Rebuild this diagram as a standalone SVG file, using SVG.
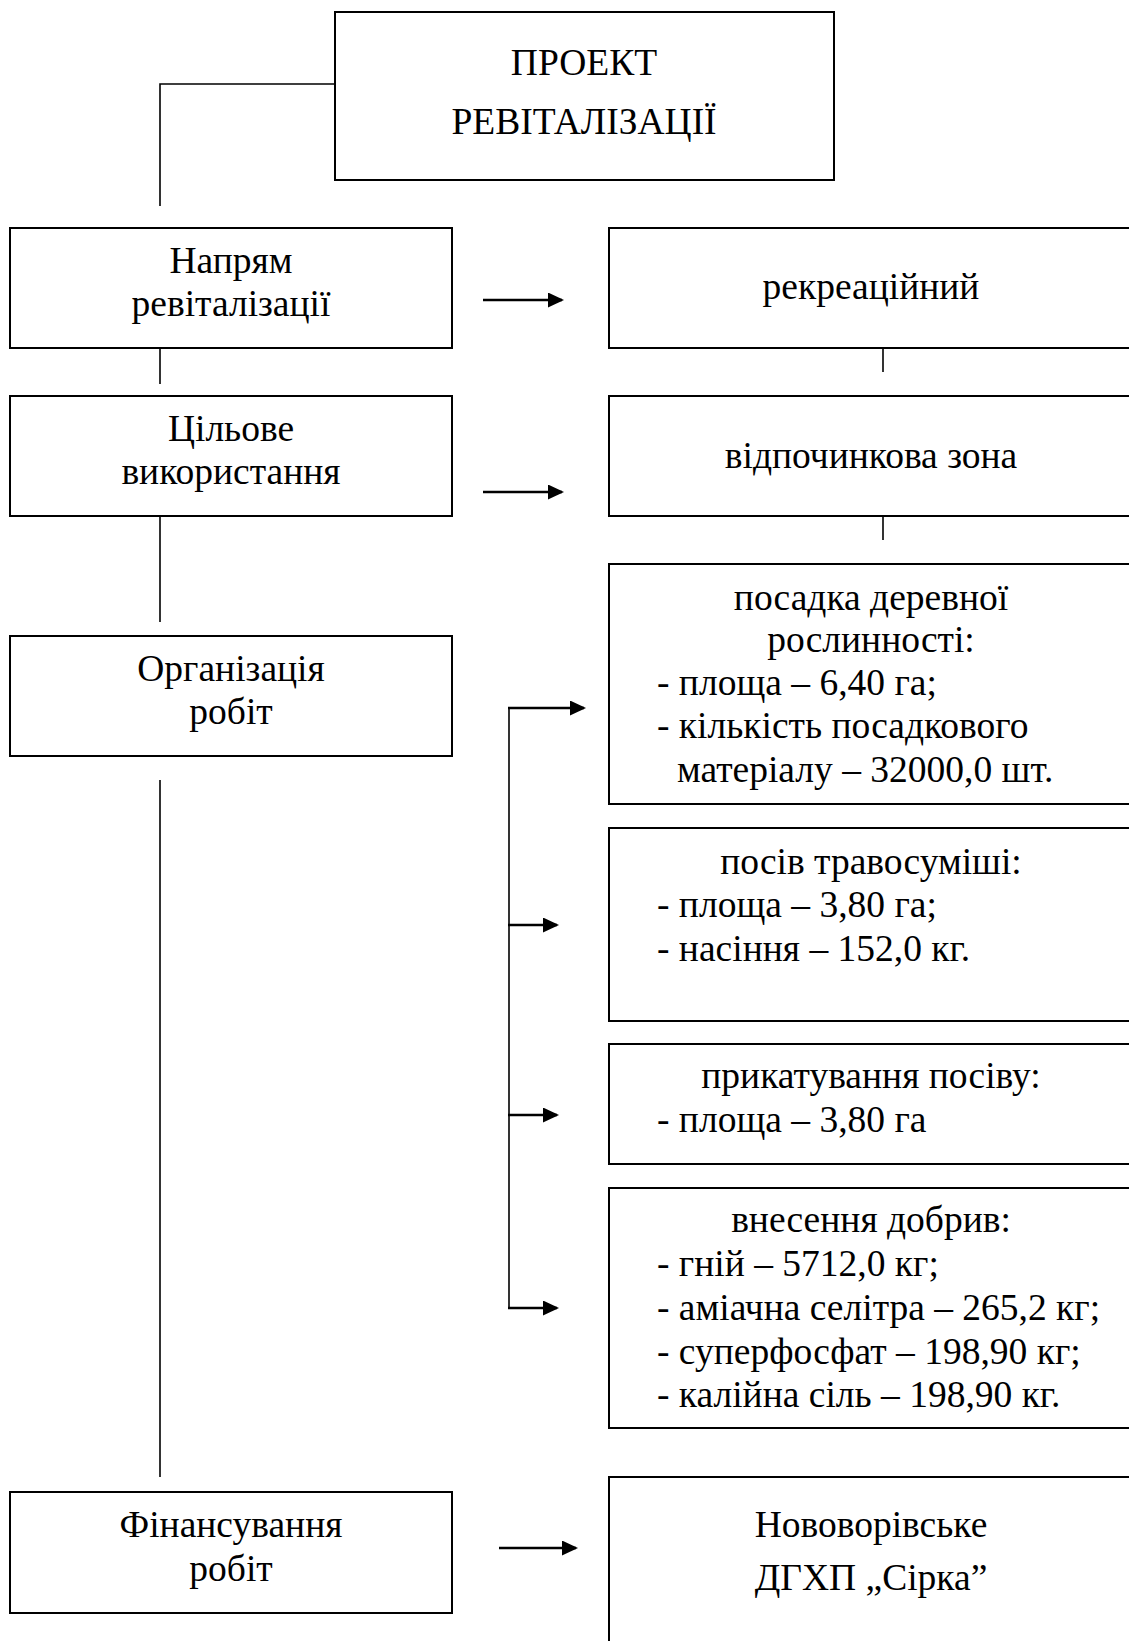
<svg xmlns="http://www.w3.org/2000/svg" width="1129" height="1641" viewBox="0 0 1129 1641">
<style>
.box{fill:#fff;stroke:#000;stroke-width:2}
.ln{fill:none;stroke:#000;stroke-width:1.6}
.ar{fill:none;stroke:#000;stroke-width:2.6}
text{font-family:"Liberation Serif","Times New Roman",serif;font-size:37.5px;fill:#000}
.c{text-anchor:middle}
</style>
<defs>
<marker id="ah" markerUnits="userSpaceOnUse" markerWidth="17" markerHeight="16" refX="14" refY="7.5" orient="auto">
<path d="M0,0 L16,7.5 L0,15 Z" fill="#000"/>
</marker>
</defs>
<rect width="1129" height="1641" fill="#fff"/>
<g id="connectors">
<polyline class="ln" points="335,84 160,84 160,206"/>
<line class="ln" x1="160" y1="348" x2="160" y2="384"/>
<line class="ln" x1="160" y1="516" x2="160" y2="622"/>
<line class="ln" x1="160" y1="780" x2="160" y2="1477"/>
<line class="ln" x1="883" y1="348" x2="883" y2="372"/>
<line class="ln" x1="883" y1="516" x2="883" y2="540"/>
<line class="ln" x1="509" y1="708" x2="509" y2="1308"/>
<line class="ar" x1="483" y1="300" x2="562" y2="300" marker-end="url(#ah)"/>
<line class="ar" x1="483" y1="492" x2="562" y2="492" marker-end="url(#ah)"/>
<line class="ar" x1="508" y1="708" x2="584" y2="708" marker-end="url(#ah)"/>
<line class="ar" x1="508" y1="925" x2="557" y2="925" marker-end="url(#ah)"/>
<line class="ar" x1="508" y1="1115" x2="557" y2="1115" marker-end="url(#ah)"/>
<line class="ar" x1="508" y1="1308" x2="557" y2="1308" marker-end="url(#ah)"/>
<line class="ar" x1="499" y1="1548" x2="576" y2="1548" marker-end="url(#ah)"/>
</g>
<g id="project">
<rect class="box" x="335" y="12" width="499" height="168"/>
<text class="c" x="584" y="75">ПРОЕКТ</text>
<text class="c" x="584" y="134">РЕВІТАЛІЗАЦІЇ</text>
</g>
<g id="napryam">
<rect class="box" x="10" y="228" width="442" height="120"/>
<text class="c" x="231" y="273">Напрям</text>
<text class="c" x="231" y="316">ревіталізації</text>
</g>
<g id="rekreatsiynyi">
<rect class="box" x="609" y="228" width="530" height="120"/>
<text class="c" x="871" y="299">рекреаційний</text>
</g>
<g id="tsilove">
<rect class="box" x="10" y="396" width="442" height="120"/>
<text class="c" x="231" y="441">Цільове</text>
<text class="c" x="231" y="484">використання</text>
</g>
<g id="vidpochynkova">
<rect class="box" x="609" y="396" width="530" height="120"/>
<text class="c" x="871" y="468">відпочинкова зона</text>
</g>
<g id="orhanizatsiya">
<rect class="box" x="10" y="636" width="442" height="120"/>
<text class="c" x="231" y="681">Організація</text>
<text class="c" x="231" y="724">робіт</text>
</g>
<g id="posadka">
<rect class="box" x="609" y="564" width="530" height="240"/>
<text class="c" x="871" y="610">посадка деревної</text>
<text class="c" x="871" y="652">рослинності:</text>
<text x="657" y="695">- площа – 6,40 га;</text>
<text x="657" y="738">- кількість посадкового</text>
<text x="677" y="782">матеріалу – 32000,0 шт.</text>
</g>
<g id="posiv">
<rect class="box" x="609" y="828" width="530" height="193"/>
<text class="c" x="871" y="874">посів травосуміші:</text>
<text x="657" y="917">- площа – 3,80 га;</text>
<text x="657" y="961">- насіння – 152,0 кг.</text>
</g>
<g id="prykatuvannya">
<rect class="box" x="609" y="1044" width="530" height="120"/>
<text class="c" x="871" y="1088">прикатування посіву:</text>
<text x="657" y="1132">- площа – 3,80 га</text>
</g>
<g id="vnesennya">
<rect class="box" x="609" y="1188" width="530" height="240"/>
<text class="c" x="871" y="1232">внесення добрив:</text>
<text x="657" y="1276">- гній – 5712,0 кг;</text>
<text x="657" y="1320">- аміачна селітра – 265,2 кг;</text>
<text x="657" y="1364">- суперфосфат – 198,90 кг;</text>
<text x="657" y="1407">- калійна сіль – 198,90 кг.</text>
</g>
<g id="finansuvannya">
<rect class="box" x="10" y="1492" width="442" height="121"/>
<text class="c" x="231" y="1537">Фінансування</text>
<text class="c" x="231" y="1581">робіт</text>
</g>
<g id="novoyavorivske">
<rect class="box" x="609" y="1477" width="530" height="180"/>
<text class="c" x="871" y="1537">Нововорівське</text>
<text class="c" x="871" y="1590">ДГХП „Сірка”</text>
</g>
</svg>
